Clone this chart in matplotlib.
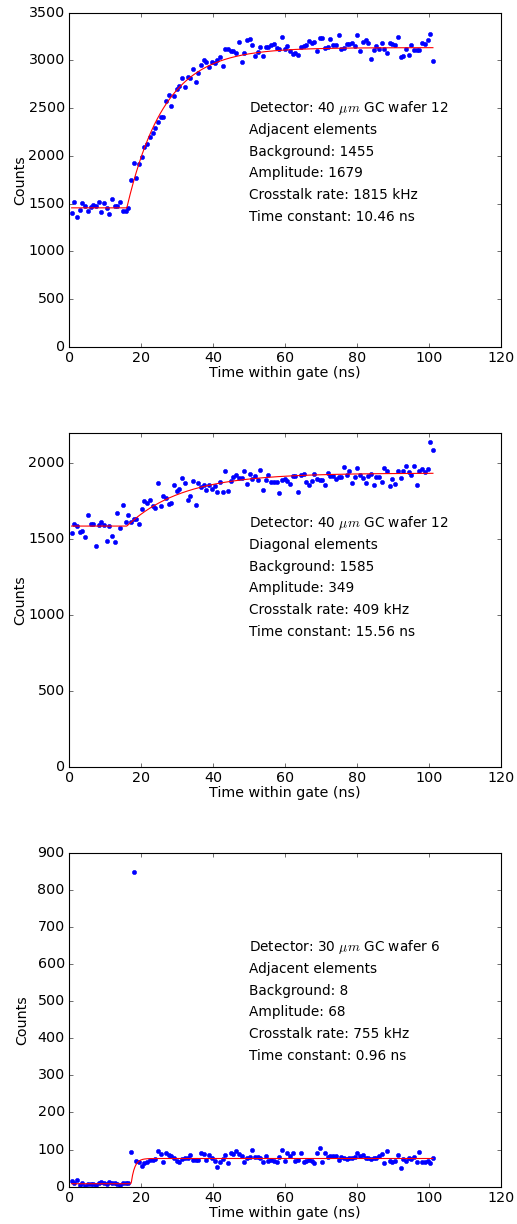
import numpy as np
import matplotlib
matplotlib.use("Agg")
import matplotlib.pyplot as plt

plt.style.use("classic")
plt.rcParams["savefig.facecolor"] = "white"
plt.rcParams["figure.facecolor"] = "white"
plt.rcParams["font.size"] = 12.8

# time bins within the gate (ns): first bin and bin width
first_bin = 0.65
bin_width = 0.75

# panel 1: 40 um GC wafer 12, adjacent elements
counts_adj40 = [
    1405, 1520, 1356, 1433, 1506, 1478, 1426, 1467, 1488, 1478,
    1516, 1412, 1509, 1454, 1394, 1544, 1471, 1471, 1520, 1426,
    1426, 1450, 1744, 1925, 1768, 1915, 1988, 2096, 2124, 2194,
    2243, 2292, 2351, 2411, 2411, 2579, 2634, 2519, 2631, 2697,
    2732, 2813, 2725, 2823, 2816, 2914, 2771, 2872, 2952, 3005,
    2984, 2935, 2980, 2970, 3005, 3033, 2938, 3117, 3117, 3103,
    3103, 3082, 3194, 2980, 3075, 3211, 3221, 3166, 3050, 3085,
    3141, 3047, 3141, 3141, 3162, 3169, 3131, 3124, 3249, 3117,
    3148, 3099, 3064, 3082, 3061, 3138, 3155, 3159, 3207, 3187,
    3190, 3099, 3239, 3232, 3127, 3145, 3221, 3162, 3162, 3263,
    3120, 3127, 3176, 3169, 3180, 3148, 3270, 3103, 3197, 3211,
    3183, 3012, 3110, 3152, 3124, 3180, 3120, 3075, 3187, 3173,
    3159, 3242, 3033, 3050, 3117, 3061, 3159, 3113, 3113, 3113,
    3180, 3173, 3211, 3277, 2991,
]

# panel 2: 40 um GC wafer 12, diagonal elements
counts_diag40 = [
    1542, 1599, 1583, 1548, 1553, 1515, 1660, 1599, 1599, 1454,
    1592, 1614, 1594, 1487, 1586, 1520, 1480, 1673, 1575, 1724,
    1610, 1658, 1610, 1632, 1629, 1597, 1697, 1750, 1735, 1754,
    1719, 1702, 1871, 1719, 1783, 1772, 1730, 1735, 1853, 1816,
    1829, 1899, 1871, 1759, 1783, 1879, 1724, 1868, 1844, 1853,
    1820, 1853, 1829, 1847, 1809, 1875, 1811, 1947, 1814, 1884,
    1908, 1919, 1904, 1904, 1950, 1862, 1930, 1895, 1912, 1886,
    1954, 1825, 1890, 1921, 1873, 1873, 1877, 1803, 1888, 1895,
    1884, 1862, 1912, 1912, 1809, 1919, 1925, 1873, 1855, 1879,
    1928, 1895, 1886, 1886, 1855, 1934, 1917, 1917, 1895, 1910,
    1910, 1974, 1919, 1947, 1868, 1906, 1969, 1923, 1899, 1866,
    1914, 1930, 1853, 1906, 1910, 1877, 1969, 1947, 1847, 1895,
    1864, 1950, 1899, 1947, 1980, 1943, 1923, 1978, 1853, 1950,
    1963, 1939, 1963, 2136, 2088,
]

# panel 3: 30 um GC wafer 6, adjacent elements
counts_adj30 = [
    16, 11, 18, 4, 11, 3, 7, 8, 7, 4,
    11, 13, 10, 7, 14, 9, 11, 7, 5, 10,
    10, 11, 94, 848, 70, 67, 57, 63, 67, 71,
    71, 74, 97, 87, 67, 90, 86, 84, 76, 69,
    66, 75, 77, 78, 85, 72, 71, 72, 92, 88,
    72, 86, 78, 70, 54, 66, 75, 86, 65, 90,
    87, 95, 87, 84, 66, 78, 81, 99, 81, 80,
    76, 66, 84, 69, 72, 70, 66, 80, 98, 70,
    90, 83, 90, 69, 72, 90, 66, 68, 71, 70,
    64, 90, 105, 66, 90, 80, 84, 84, 84, 73,
    81, 78, 75, 78, 76, 79, 92, 83, 85, 76,
    77, 74, 77, 76, 84, 87, 63, 95, 70, 67,
    70, 86, 50, 74, 68, 78, 75, 80, 66, 94,
    66, 66, 69, 65, 77,
]

# fit results shown on each panel
detectors = ["40", "40", "30"]
wafers = [12, 12, 6]
element_types = ["Adjacent elements", "Diagonal elements", "Adjacent elements"]
backgrounds = [1455, 1585, 8]
amplitudes = [1679, 349, 68]
rates_khz = [1815, 409, 755]
time_constants = [10.46, 15.56, 0.96]
onsets = [16.0, 16.0, 17.2]

y_tops = [3500, 2200, 900]
y_steps = [500, 500, 100]
text_y = [0.714, 0.729, 0.717]
ylabel_x = [-0.098, -0.098, -0.093]

all_counts = [counts_adj40, counts_diag40, counts_adj30]

W, H = 517, 1224
fig = plt.figure(figsize=(W / 80.0, H / 80.0), dpi=80)

ax_boxes = [
    (69.3, 12.7, 346.7),
    (69.3, 432.7, 766.7),
    (69.3, 852.7, 1186.7),
]

for k in range(3):
    left, top, bottom = ax_boxes[k]
    ax = fig.add_axes([left / W, 1 - bottom / H, (500.7 - left) / W, (bottom - top) / H])

    counts = np.array(all_counts[k], dtype=float)
    t = first_bin + bin_width * np.arange(len(counts))

    # fitted step + exponential rise
    tf = np.linspace(t[0], t[-1], 600)
    rise = np.clip(tf - onsets[k], 0, None)
    fit = backgrounds[k] + amplitudes[k] * (1 - np.exp(-rise / time_constants[k]))

    ax.plot(t, counts, "o", color="blue", mec="blue", ms=3.8)
    ax.plot(tf, fit, "-", color="red", lw=1.0)

    ax.set_xlim(0, 120)
    ax.set_ylim(0, y_tops[k])
    ax.set_xticks(np.arange(0, 121, 20))
    ax.set_yticks(np.arange(0, y_tops[k] + 1, y_steps[k]))
    ax.set_xlabel("Time within gate (ns)", labelpad=1)
    ax.set_ylabel("Counts")
    ax.yaxis.set_label_coords(ylabel_x[k], 0.5)

    lines = [
        "Detector: %s $\\mu m$ GC wafer %d" % (detectors[k], wafers[k]),
        element_types[k],
        "Background: %d" % backgrounds[k],
        "Amplitude: %d" % amplitudes[k],
        "Crosstalk rate: %d kHz" % rates_khz[k],
        "Time constant: %.2f ns" % time_constants[k],
    ]
    for i, s in enumerate(lines):
        ax.text(50, text_y[k] - 0.065 * i, s, transform=ax.get_xaxis_transform(),
                va="center", ha="left", fontsize=12.3)

fig.savefig("out.png", dpi=80)
